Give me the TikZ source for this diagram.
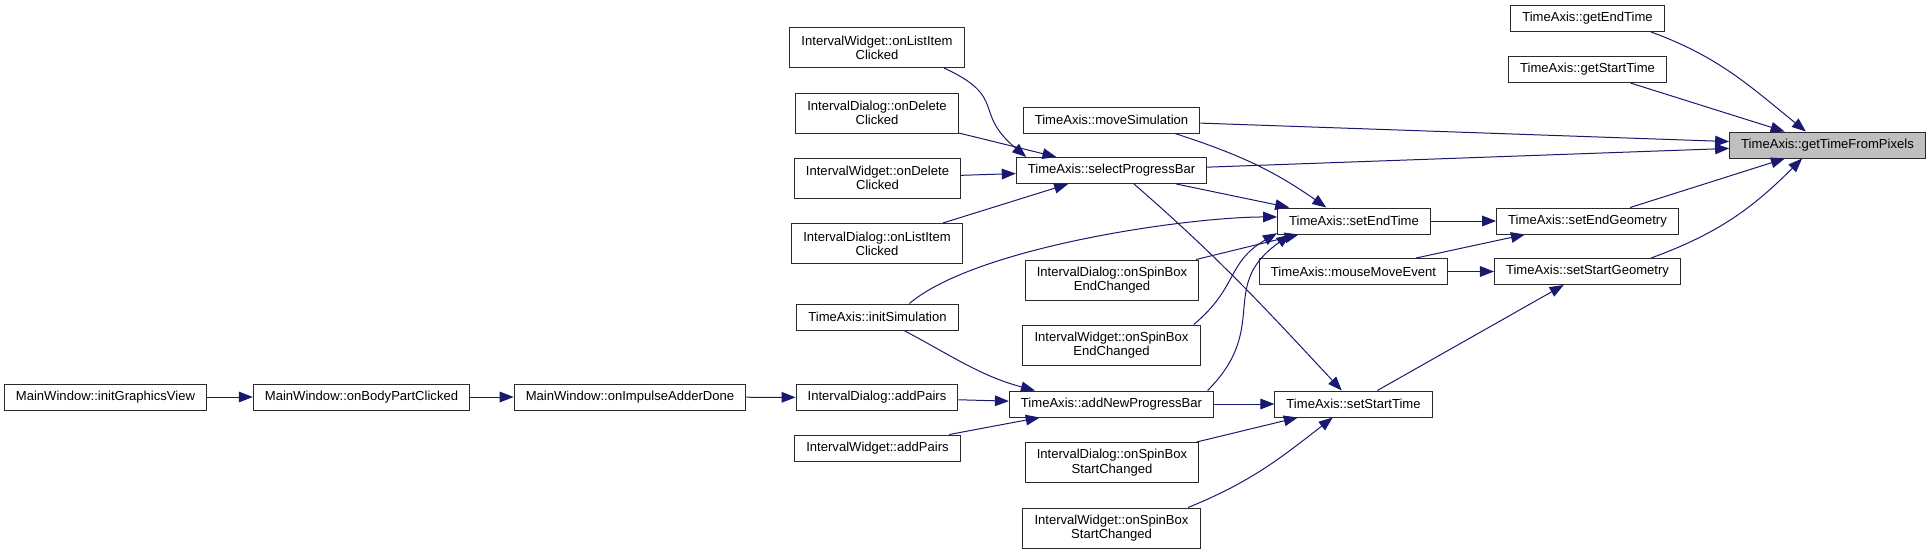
\documentclass[tikz,border=0pt]{standalone}
\usepackage{fontspec}
\setmainfont{Liberation Sans}
\usetikzlibrary{arrows.meta,positioning,calc}
\definecolor{cgEdge}{HTML}{191970}
\definecolor{cgBorder}{HTML}{2A2A2A}
\definecolor{cgFocusFill}{HTML}{BFBFBF}
\tikzset{
    cgBox/.style={
        rectangle,
        draw=cgBorder,
        line width=0.75pt,
        fill=white,
        minimum height=19.5pt,
        inner xsep=8.7pt,
        inner ysep=3pt,
        font=\fontsize{9.8}{10.7}\selectfont,
        align=center
    },
    % Variants
    cgTall/.style={cgBox, minimum height=30pt},
    cgFocus/.style={cgBox, fill=cgFocusFill},
    % Arrows
    cgArrow/.style={-{Triangle[length=10.5pt,width=8pt]}, line width=0.75pt, draw=cgEdge}
}

\begin{document}
\begin{tikzpicture}[x=0.75pt,y=0.75pt]
    \useasboundingbox (0,0) rectangle (1931,-554);

    % callee column
    \node[cgFocus] (timeFromPx) at (1827.5,-145) {TimeAxis::getTimeFromPixels};
    \node[cgBox] (endTime) at (1587.5,-18.5) {TimeAxis::getEndTime};
    \node[cgBox] (startTime) at (1587.5,-69.5) {TimeAxis::getStartTime};
    \node[cgBox] (endGeom) at (1587.5,-221) {TimeAxis::setEndGeometry};
    \node[cgBox] (startGeom) at (1587.5,-271.5) {TimeAxis::setStartGeometry};

    \node[cgBox] (setEnd) at (1354,-221) {TimeAxis::setEndTime};
    \node[cgBox] (mouseMove) at (1353.5,-271.5) {TimeAxis::mouseMoveEvent};
    \node[cgBox] (setStart) at (1353.5,-404) {TimeAxis::setStartTime};

    \node[cgBox] (moveSim) at (1111.5,-120) {TimeAxis::moveSimulation};
    \node[cgBox] (selectBar) at (1111.5,-170.5) {TimeAxis::selectProgressBar};
    \node[cgTall] (dlgSpinEnd) at (1112,-280) {IntervalDialog::onSpinBox\\EndChanged};
    \node[cgTall] (wgtSpinEnd) at (1111.5,-345) {IntervalWidget::onSpinBox\\EndChanged};
    \node[cgBox] (addBar) at (1111.5,-404) {TimeAxis::addNewProgressBar};
    \node[cgTall] (dlgSpinStart) at (1112,-462.5) {IntervalDialog::onSpinBox\\StartChanged};
    \node[cgTall] (wgtSpinStart) at (1111.5,-528) {IntervalWidget::onSpinBox\\StartChanged};

    \node[cgTall] (wgtListItem) at (877,-47.5) {IntervalWidget::onListItem\\Clicked};
    \node[cgTall] (dlgDelete) at (877,-113) {IntervalDialog::onDelete\\Clicked};
    \node[cgTall] (wgtDelete) at (877.5,-178) {IntervalWidget::onDelete\\Clicked};
    \node[cgTall] (dlgListItem) at (877,-243.5) {IntervalDialog::onListItem\\Clicked};
    \node[cgBox] (initSim) at (877.5,-317) {TimeAxis::initSimulation};
    \node[cgBox] (dlgPairs) at (877,-397.5) {IntervalDialog::addPairs};
    \node[cgBox] (wgtPairs) at (877.5,-448) {IntervalWidget::addPairs};

    \node[cgBox] (initView) at (105.5,-397) {MainWindow::initGraphicsView};
    \node[cgBox] (bodyPart) at (361.5,-397) {MainWindow::onBodyPartClicked};
    \node[cgBox] (impulseDone) at (630,-397) {MainWindow::onImpulseAdderDone};

    % into getTimeFromPixels
    \draw[cgArrow] (endTime.-12) to[out=-20,in=141] (timeFromPx.148);
    \draw[cgArrow] (startTime) -- (timeFromPx);
    \draw[cgArrow] (moveSim.-2) -- (timeFromPx.178);
    \draw[cgArrow] (selectBar.2) -- (timeFromPx.-178);
    \draw[cgArrow] (endGeom) -- (timeFromPx);
    \draw[cgArrow] (startGeom.12) to[out=20,in=-135] (timeFromPx.-152);

    % into setEndTime
    \draw[cgArrow] (moveSim.-12) to[out=-18,in=145] (setEnd.154);
    \draw[cgArrow] (selectBar) -- (setEnd);
    \draw[cgArrow] (initSim.23) to[out=40,in=180,looseness=0.6] (setEnd.177);
    \draw[cgArrow] (dlgSpinEnd) -- (setEnd);
    \draw[cgArrow] (wgtSpinEnd.14) to[out=40,in=-150,looseness=1.2] (setEnd.-171);
    \draw[cgArrow] (addBar.8) to[out=45,in=-145,looseness=1.3] (setEnd.-168);

    % into selectProgressBar
    \draw[cgArrow] (wgtListItem.-17) to[out=-25,in=140,looseness=1.5] (selectBar.171);
    \draw[cgArrow] (dlgDelete) -- (selectBar);
    \draw[cgArrow] (wgtDelete) -- (selectBar);
    \draw[cgArrow] (dlgListItem) -- (selectBar);

    % into addNewProgressBar and setStartTime
    \draw[cgArrow] (initSim.-27) to[out=-28,in=165] (addBar.170);
    \draw[cgArrow] (dlgPairs) -- (addBar);
    \draw[cgArrow] (wgtPairs) -- (addBar);
    \draw[cgArrow] (selectBar.-31) to[out=-41,in=133] (setStart.131);
    \draw[cgArrow] (addBar) -- (setStart);
    \draw[cgArrow] (dlgSpinStart) -- (setStart);
    \draw[cgArrow] (wgtSpinStart.15) to[out=22,in=-142] (setStart.-147);

    % geometry setters
    \draw[cgArrow] (setEnd) -- (endGeom);
    \draw[cgArrow] (mouseMove) -- (endGeom);
    \draw[cgArrow] (mouseMove) -- (startGeom);
    \draw[cgArrow] (setStart) -- (startGeom);

    % MainWindow chain
    \draw[cgArrow] (initView) -- (bodyPart);
    \draw[cgArrow] (bodyPart) -- (impulseDone);
    \draw[cgArrow] (impulseDone) -- (dlgPairs);
\end{tikzpicture}
\end{document}
